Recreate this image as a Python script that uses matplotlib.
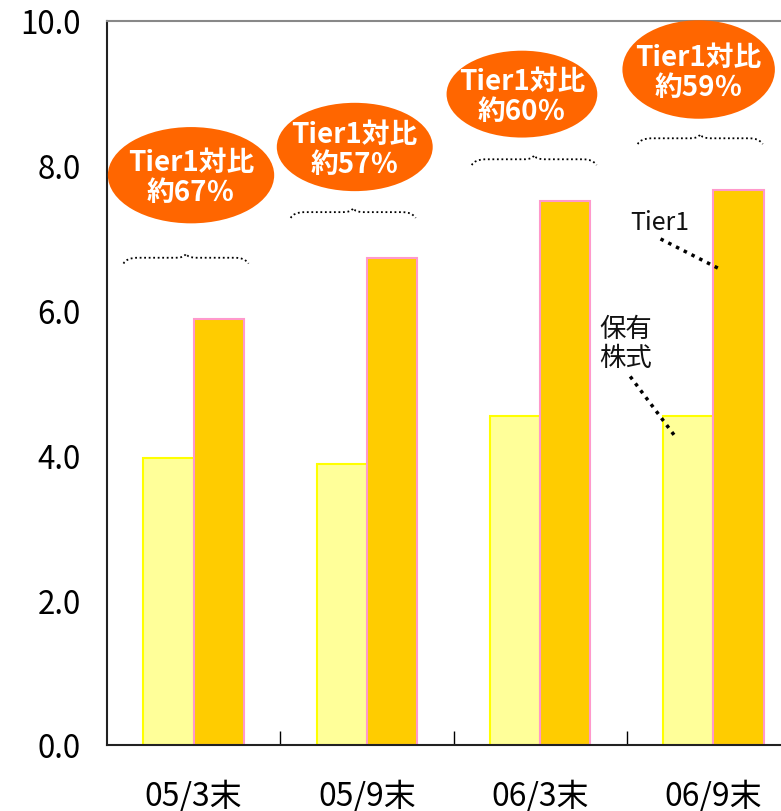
import matplotlib
matplotlib.use('Agg')
import matplotlib.pyplot as plt
from matplotlib.patches import Ellipse, PathPatch
from matplotlib.path import Path
import numpy as np

plt.rcParams['font.family'] = ['Noto Sans CJK JP', 'DejaVu Sans']

categories = ['05/3末', '05/9末', '06/3末', '06/9末']
holdings = [3.97, 3.88, 4.55, 4.55]
tier1 = [5.88, 6.72, 7.52, 7.66]
ratio_labels = ['Tier1対比\n約67％', 'Tier1対比\n約57％', 'Tier1対比\n約60％', 'Tier1対比\n約59％']
yticks = [0, 2, 4, 6, 8, 10]

# decoration positions (data coords)
ell_xy = [(-0.015, 7.87), (0.93, 8.26), (1.895, 8.99), (2.915, 9.33)]
ell_wh = [(0.96, 1.33), (0.90, 1.22), (0.87, 1.20), (0.88, 1.36)]
brace_x = [(-0.405, 0.317), (0.56, 1.282), (1.605, 2.326), (2.563, 3.285)]
brace_y = [6.73, 7.36, 8.09, 8.38]

fig = plt.figure(figsize=(7.81, 8.12), dpi=100)
ax = fig.add_axes([107/781, 66/812, 693/781, 724/812])

x = np.arange(len(categories))
w = 0.29
ax.bar(x - w/2, holdings, w, color='#FFFF99', edgecolor='#FFFF00', linewidth=1.5, zorder=2)
ax.bar(x + w/2, tier1, w, color='#FFCC00', edgecolor='#FF99CC', linewidth=1.5, zorder=2)

ax.set_xlim(-0.5, 3.5)
ax.set_ylim(0, 10)
ax.set_yticks(yticks)
ax.set_yticklabels([f'{v:.1f}' for v in yticks], fontsize=22.5)
ax.tick_params(axis='y', length=0, pad=19)
ax.set_xticks(x)
ax.set_xticklabels(categories, fontsize=23)
ax.tick_params(axis='x', which='major', length=0, pad=24)
ax.set_xticks([0.5, 1.5, 2.5], minor=True)
ax.tick_params(axis='x', which='minor', direction='in', length=10, width=1, color='black')

for s in ['left', 'bottom']:
    ax.spines[s].set_color('#222222')
    ax.spines[s].set_linewidth(1.5)
ax.spines['top'].set_color('#888888')
ax.spines['top'].set_linewidth(1.5)
ax.spines['right'].set_visible(False)

for (cx, cy), (ew, eh), lab in zip(ell_xy, ell_wh, ratio_labels):
    e = Ellipse((cx, cy), ew, eh, facecolor='#FF6600', edgecolor='none', zorder=3, clip_on=False)
    ax.add_patch(e)
    ax.text(cx, cy - 0.03, lab, ha='center', va='center', color='white', fontsize=20,
            fontweight='bold', linespacing=1.1, zorder=4)

def brace(xl, xr, y):
    xc = (xl + xr) / 2
    e = 0.08
    p = 0.055
    verts = [(xl, y - e), (xl + 0.02, y), (xl + 0.08, y),
             (xc - 0.06, y),
             (xc - 0.01, y), (xc, y + p),
             (xc + 0.01, y), (xc + 0.06, y),
             (xr - 0.08, y),
             (xr - 0.02, y), (xr, y - e)]
    codes = [Path.MOVETO, Path.CURVE3, Path.CURVE3,
             Path.LINETO,
             Path.CURVE3, Path.CURVE3,
             Path.CURVE3, Path.CURVE3,
             Path.LINETO,
             Path.CURVE3, Path.CURVE3]
    ax.add_patch(PathPatch(Path(verts, codes), fill=False, edgecolor='black',
                           linestyle=(0, (1, 1.5)), linewidth=1.3, zorder=3))

for (xl, xr), y in zip(brace_x, brace_y):
    brace(xl, xr, y)

# annotations
ax.text(2.52, 7.23, 'Tier1', fontsize=18, ha='left', va='center', color='#111111')
ax.plot([2.695, 3.04], [6.99, 6.57], color='black', linestyle=(0, (1, 1.5)), linewidth=2.5, zorder=5)
ax.text(2.34, 5.55, '保有\n株式', fontsize=19, ha='left', va='center', color='#111111', linespacing=1.1)
ax.plot([2.52, 2.78], [5.09, 4.26], color='black', linestyle=(0, (1, 1.5)), linewidth=2.5, zorder=5)

fig.savefig('out.png', dpi=100)
